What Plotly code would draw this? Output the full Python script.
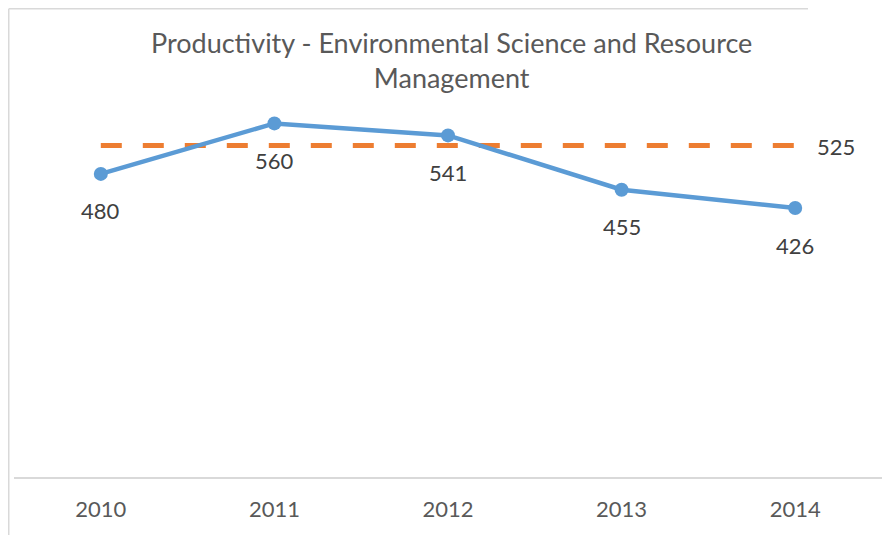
import plotly.graph_objects as go

years = ["2010", "2011", "2012", "2013", "2014"]
productivity = [480, 560, 541, 455, 426]
target = [525, 525, 525, 525, 525]
title_text = "Productivity - Environmental Science and Resource<br>Management"

FONT = "Lato"
blue = "#5B9BD5"
orange = "#ED7D31"

fig = go.Figure()
fig.add_trace(go.Scatter(
    x=years, y=target, mode="lines",
    line=dict(color=orange, width=5, dash="21px,21px"),
    hoverinfo="skip", showlegend=False))
fig.add_trace(go.Scatter(
    x=years, y=productivity, mode="lines+markers",
    line=dict(color=blue, width=4.5),
    marker=dict(color=blue, size=14),
    showlegend=False))

annotations = []
for i, v in enumerate(productivity):
    annotations.append(dict(x=i, y=v, xref="x", yref="y", text=str(v),
                            showarrow=False, yshift=-37,
                            font=dict(family=FONT, size=22, color="#404040")))
annotations.append(dict(x=len(target) - 1, y=target[-1], xref="x", yref="y",
                        text=str(target[-1]), showarrow=False, xshift=41, yshift=-1,
                        font=dict(family=FONT, size=22, color="#404040")))

# plot area: 868 x 442 px inside a 882 x 527 figure (l=6, t=27, b=58)
PW, PH = 868, 442
left_x = (0.75 - 6) / PW
top_y = 1 + (27 - 0.75) / PH
bottom_y = -58 / PH
right_x = (800 - 6) / PW

fig.update_layout(
    width=882, height=527,
    margin=dict(l=6, r=8, t=27, b=58),
    paper_bgcolor="white", plot_bgcolor="white",
    title=dict(text=title_text, x=0.503, xanchor="center", y=1 - 45 / 527,
               yanchor="top", yref="container",
               font=dict(family=FONT, size=27, color="#595959")),
    xaxis=dict(type="category", range=[-0.5, 4.5], showgrid=False,
               showline=True, linecolor="#D9D9D9", linewidth=1.5,
               ticks="", ticklabelstandoff=12,
               tickfont=dict(family=FONT, size=22, color="#595959"),
               fixedrange=True),
    yaxis=dict(range=[0, 700], visible=False, fixedrange=True),
    annotations=annotations,
    shapes=[
        dict(type="line", xref="paper", yref="paper",
             x0=left_x, x1=left_x, y0=bottom_y, y1=top_y,
             line=dict(color="#D9D9D9", width=1.5)),
        dict(type="line", xref="paper", yref="paper",
             x0=left_x, x1=right_x, y0=top_y, y1=top_y,
             line=dict(color="#D9D9D9", width=1.5)),
    ],
)

fig.write_html("out.html")
